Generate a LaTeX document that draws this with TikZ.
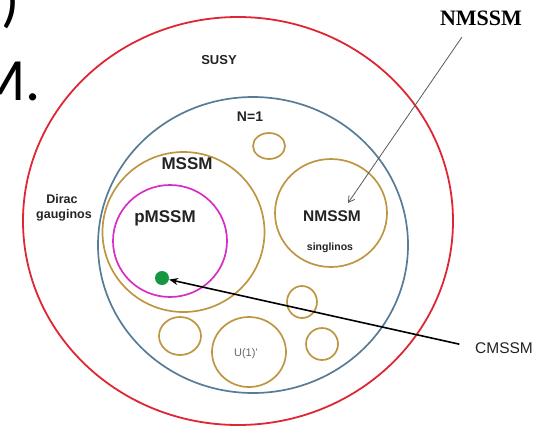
\documentclass[tikz,border=0pt]{standalone}
\usepackage{fontspec}
\setmainfont{Liberation Sans}
\newfontfamily\serifbf{Liberation Serif}
\newfontfamily\slidefont{Carlito}
\usetikzlibrary{positioning,arrows.meta}
\definecolor{susyred}{RGB}{222,38,52}
\definecolor{noneblue}{RGB}{86,124,152}
\definecolor{modgold}{RGB}{190,150,66}
\definecolor{pmagenta}{RGB}{214,46,196}
\definecolor{cmgreen}{RGB}{22,150,64}
\definecolor{txtdark}{RGB}{35,35,35}
\tikzset{
  ring/.style={draw=modgold, line width=1.7pt},
  lbl/.style={inner sep=0pt, anchor=base, text=txtdark,
    font=\bfseries\fontsize{#1}{#1}\selectfont},
  plainlbl/.style={inner sep=0pt, anchor=base, text=txtdark,
    font=\fontsize{#1}{#1}\selectfont},
  slidetxt/.style={inner sep=0pt, text=black,
    font=\slidefont\fontsize{60}{60}\selectfont}
}

\begin{document}
\begin{tikzpicture}[x=1pt,y=-1pt]
\useasboundingbox (0,0) rectangle (540,429);
\clip (0,0) rectangle (540,429);
% left-over slide text
\node[slidetxt, anchor=base west] (paren) at (1,20) {)};
\node[slidetxt, anchor=base east] (mdot) at (41,100) {M.};

% SUSY and N=1
\draw[susyred, line width=1.8pt] (238,221) ellipse [x radius=215pt, y radius=204pt];
\draw[noneblue, line width=1.7pt] (253,245) ellipse [x radius=155pt, y radius=148pt];
% models inside N=1
\draw[ring] (183.5,232) ellipse [x radius=81pt, y radius=80pt];
\draw[pmagenta, line width=1.7pt] (170,241) ellipse [x radius=57pt, y radius=56pt];
\draw[ring] (331,213) ellipse [x radius=56pt, y radius=54pt];
\draw[ring] (269,146) ellipse [x radius=16pt, y radius=13pt];
\draw[ring] (302,302) ellipse [x radius=15pt, y radius=16pt];
\draw[ring] (180,336) ellipse [x radius=21pt, y radius=19pt];
\draw[ring] (249,352) ellipse [x radius=37pt, y radius=35pt];
\draw[ring] (322,344) ellipse [x radius=16pt, y radius=16pt];

% labels
\node[lbl=13] (susy) at (219,64) {SUSY};
\node[lbl=14] (none) at (250,121) {N=1};
\node[lbl=17] (mssm) at (187,169) {MSSM};
\node[lbl=17] (pmssm) at (165,222) {pMSSM};
\node[lbl=12.5] (dirac) at (62,203) {Dirac};
\node[lbl=12.5] (gaugino) at (64,218) {gauginos};
\node[lbl=15.5] (nmssm) at (332,221) {NMSSM};
\node[lbl=10.5] (singlino) at (330,250) {singlinos};
\node[plainlbl=11, text=gray!80!black] (uone) at (246,356) {U(1)'};
\node[plainlbl=15.5] (cmssm) at (504,353) {CMSSM};
\node[inner sep=0pt, anchor=base, font=\serifbf\bfseries\fontsize{22}{22}\selectfont] (nmtop) at (481,25) {NMSSM};

% CMSSM point
\node[circle, fill=cmgreen, minimum size=14pt, inner sep=0pt] (cmdot) at (162,278) {};

% arrows
\coordinate (nmtail) at (462,37);
\coordinate (nmhead) at (348,203);
\draw[gray!70!black, line width=0.8pt, -{Straight Barb[length=6pt,width=7pt]}] (nmtail) -- (nmhead);
\draw[black, line width=1.6pt, shorten <=16pt, -{Stealth[length=9pt,width=7pt]}] (cmssm.west) -- (cmdot);
\end{tikzpicture}
\end{document}
